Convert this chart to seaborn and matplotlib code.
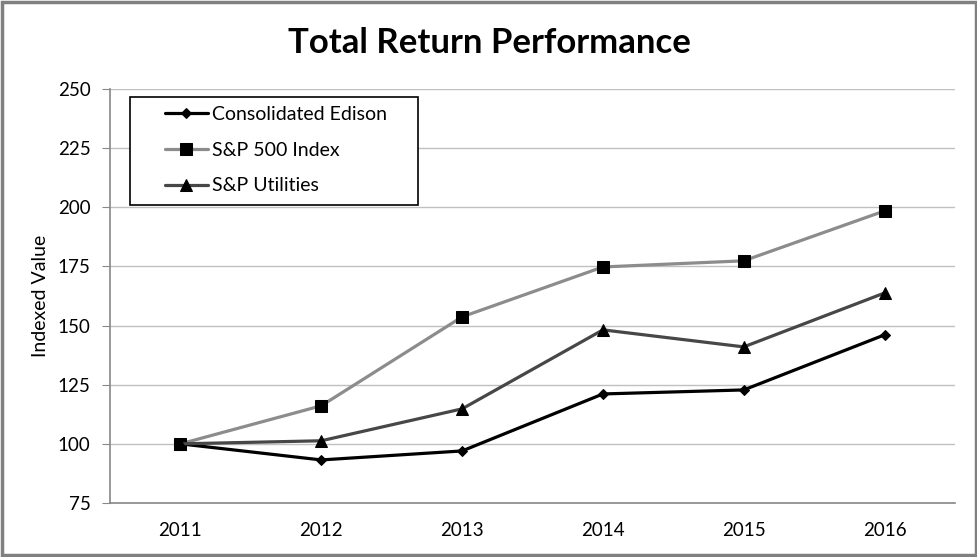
import seaborn as sns
import pandas as pd
import matplotlib.pyplot as plt

years = ["2011", "2012", "2013", "2014", "2015", "2016"]
con_ed = [100, 93.2, 97.0, 121.1, 122.8, 146.1]
sp500 = [100, 116.1, 153.7, 174.8, 177.4, 198.5]
sp_utilities = [100, 101.3, 114.8, 148.2, 141.0, 163.8]

series_names = ["Consolidated Edison", "S&P 500 Index", "S&P Utilities"]
series_values = [con_ed, sp500, sp_utilities]
line_colors = ["#000000", "#8c8c8c", "#474747"]
markers = ["D", "s", "^"]
marker_sizes = [5, 8.5, 8.5]

sns.set_style("white")
plt.rcParams['font.family'] = ['Lato', 'DejaVu Sans']
plt.rcParams['text.color'] = 'black'
plt.rcParams['axes.labelcolor'] = 'black'

fig = plt.figure(figsize=(9.78, 5.57), dpi=100)
ax = fig.add_axes([0.1125, 0.097, 0.864, 0.743])

# one seaborn call per series so markers stay black
for name, vals, col, mk, ms in zip(series_names, series_values, line_colors, markers, marker_sizes):
    df = pd.DataFrame({"year": years, "value": vals})
    sns.lineplot(data=df, x="year", y="value", ax=ax, color=col, linewidth=2.3,
                 marker=mk, markersize=ms, markerfacecolor="black",
                 markeredgecolor="black", label=name)

ax.set_xlim(-0.5, 5.5)
ax.set_ylim(75, 250)
ax.set_yticks(range(75, 251, 25))
ax.grid(axis="y", color="#c0c0c0", linewidth=1)
ax.set_axisbelow(True)

# ticks between the categories on x
ax.set_xticks([i + 0.5 for i in range(-1, 6)], minor=True)
ax.tick_params(axis="x", which="major", length=0, pad=14, labelsize=13.5, labelcolor="black")
ax.tick_params(axis="x", which="minor", length=5, color="#888888", direction="out")
ax.tick_params(axis="y", which="major", length=6, color="#888888", direction="out",
               left=True, labelsize=13.5, pad=8, labelcolor="black")

for side in ["top", "right"]:
    ax.spines[side].set_visible(False)
for side in ["left", "bottom"]:
    ax.spines[side].set_color("#888888")
    ax.spines[side].set_linewidth(1.2)

ax.set_xlabel("")
ax.set_ylabel("Indexed Value", fontsize=14)
ax.yaxis.set_label_coords(-0.072, 0.5)

leg = ax.legend(loc="upper left", bbox_to_anchor=(165 / 978, 1 - 106 / 557),
                bbox_transform=fig.transFigure, fontsize=14, frameon=False,
                handlelength=2.2, labelspacing=0.96, borderpad=0, borderaxespad=0,
                handletextpad=0.2)
leg.set_zorder(6)
for t in leg.get_texts():
    t.set_color("black")

# legend box, wider than the entries as in the original
ax.add_patch(plt.Rectangle((130 / 978, 1 - 205 / 557), 288 / 978, 108 / 557,
                           transform=fig.transFigure, fill=True, facecolor="white",
                           edgecolor="black", linewidth=1.2, zorder=5, clip_on=False))

fig.text(0.5, 0.922, "Total Return Performance", ha="center", va="center",
         fontsize=25, fontweight="bold", color="black")

# grey outer border
fig.patches.append(plt.Rectangle((0.002, 0.003), 0.996, 0.994, transform=fig.transFigure,
                                 fill=False, edgecolor="#808080", linewidth=2.5))

fig.savefig("out.png", dpi=100)
